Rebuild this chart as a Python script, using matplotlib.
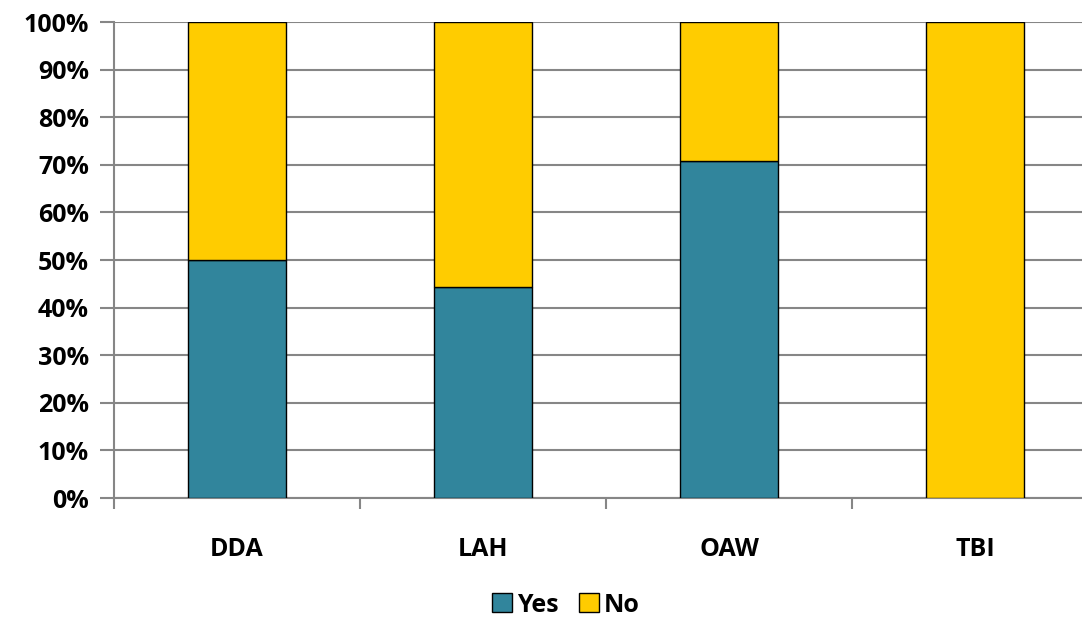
import numpy as np
import matplotlib.pyplot as plt
from matplotlib.ticker import FixedLocator

# Datos
categorias = ['DDA', 'LAH', 'OAW', 'TBI']
si = [50.0, 44.4, 70.8, 0.0]
no = [50.0, 55.6, 29.2, 100.0]

plt.rcParams['font.family'] = ['Open Sans', 'DejaVu Sans']

fig = plt.figure(figsize=(10.82, 6.18), dpi=100)
ax = fig.add_axes([114 / 1082, 1 - 498 / 618, 968 / 1082, 476 / 618])

x = np.arange(len(categorias))
ax.bar(x, si, width=0.4, color='#31859C', edgecolor='black', linewidth=1, label='Yes', zorder=3)
ax.bar(x, no, width=0.4, bottom=si, color='#FFCC00', edgecolor='black', linewidth=1, label='No', zorder=3)

ax.set_xlim(-0.5, -0.5 + 968 / 246)
ax.set_ylim(0, 100)
ax.set_yticks(np.arange(0, 101, 10))
ax.set_yticklabels([f'{v}%' for v in range(0, 101, 10)], fontsize=18, fontweight='bold')
ax.yaxis.grid(True, color='#868686', linewidth=1.5, zorder=0)

ax.set_xticks(x)
ax.set_xticklabels(categorias, fontsize=18, fontweight='bold')
ax.tick_params(axis='x', which='major', length=0, pad=28)
ax.xaxis.set_minor_locator(FixedLocator(np.arange(-0.5, 4, 1)))
ax.tick_params(axis='x', which='minor', length=8, width=1.5, color='#868686')
ax.tick_params(axis='y', length=10, width=1.5, color='#868686', pad=8)

for s in ['top', 'right']:
    ax.spines[s].set_visible(False)
for s in ['left', 'bottom']:
    ax.spines[s].set_color('#868686')
    ax.spines[s].set_linewidth(1.5)

ax.legend(loc='center', bbox_to_anchor=((566 - 114) / 968, -0.225), ncol=2, frameon=False,
          prop={'size': 18, 'weight': 'bold'}, handlelength=0.8, handleheight=0.8,
          handletextpad=0.2, columnspacing=0.8)

fig.savefig('out.png', dpi=100)
